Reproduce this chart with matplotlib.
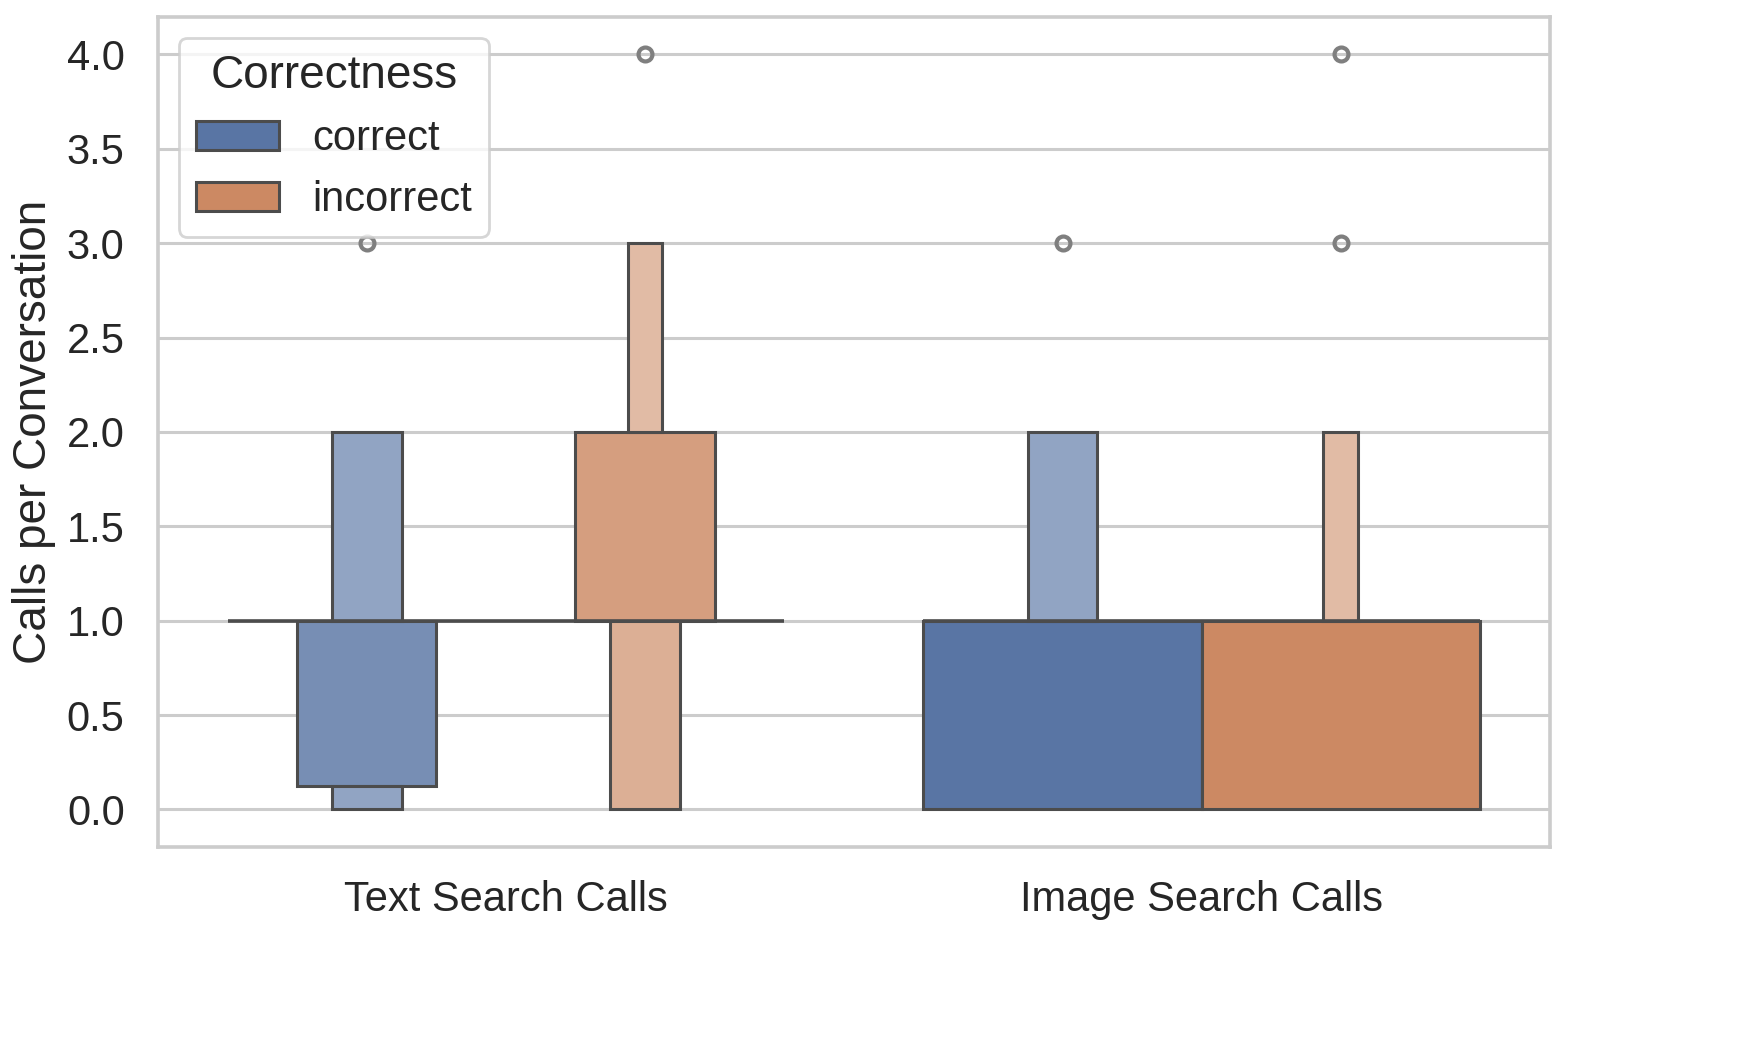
import matplotlib
matplotlib.use("Agg")
import matplotlib.pyplot as plt
from matplotlib.patches import Patch
from matplotlib.colors import to_rgb
import numpy as np
import seaborn as sns

# categories and hue levels
categories = ["Text Search Calls", "Image Search Calls"]
hues = ["correct", "incorrect"]

# letter-value boxes per (category, hue): (lower, upper)
boxes = {
    ("Text Search Calls", "correct"): [(0.125, 1.0), (1.0, 2.0), (0.0, 0.125)],
    ("Text Search Calls", "incorrect"): [(1.0, 2.0), (0.0, 1.0), (2.0, 3.0)],
    ("Image Search Calls", "correct"): [(0.0, 1.0), (1.0, 2.0)],
    ("Image Search Calls", "incorrect"): [(0.0, 1.0), (1.0, 2.0)],
}
medians = {
    ("Text Search Calls", "correct"): 1.0,
    ("Text Search Calls", "incorrect"): 1.0,
    ("Image Search Calls", "correct"): 1.0,
    ("Image Search Calls", "incorrect"): 1.0,
}
outliers = {
    ("Text Search Calls", "correct"): [3.0],
    ("Text Search Calls", "incorrect"): [4.0],
    ("Image Search Calls", "correct"): [3.0],
    ("Image Search Calls", "incorrect"): [4.0, 3.0],
}

# styles: box width as a fraction of the dodge slot, and tint towards white
width_frac = {
    ("Text Search Calls", "correct"): [0.5, 0.25, 0.25],
    ("Text Search Calls", "incorrect"): [0.5, 0.25, 0.125],
    ("Image Search Calls", "correct"): [1.0, 0.25],
    ("Image Search Calls", "incorrect"): [1.0, 0.125],
}
tints = {
    ("Text Search Calls", "correct"): [0.18, 0.34, 0.34],
    ("Text Search Calls", "incorrect"): [0.18, 0.32, 0.42],
    ("Image Search Calls", "correct"): [0.0, 0.34],
    ("Image Search Calls", "incorrect"): [0.0, 0.42],
}

sns.set_theme(style="whitegrid")
plt.rcParams["font.family"] = ["Liberation Sans", "DejaVu Sans"]

base_colors = {"correct": "#5975a4", "incorrect": "#cc8963"}
edge = "#4c4c4c"
slot = 0.4


def tint(color, t):
    c = np.array(to_rgb(color))
    return tuple(c + (1 - c) * t)


fig = plt.figure(figsize=(8.73, 5.21), dpi=200)
ax = fig.add_axes([0.0905, 0.187, 0.797, 0.797])

for i, cat in enumerate(categories):
    for j, hue in enumerate(hues):
        key = (cat, hue)
        xc = i + (j - 0.5) * slot
        for (lo, hi), wf, t in zip(boxes[key], width_frac[key], tints[key]):
            ax.bar(xc, hi - lo, bottom=lo, width=slot * wf,
                   color=tint(base_colors[hue], t), edgecolor=edge,
                   linewidth=1.1, zorder=3)
        ax.plot([xc - slot / 2, xc + slot / 2], [medians[key]] * 2,
                color=edge, linewidth=1.3, zorder=4, solid_capstyle="butt")
        ys = outliers[key]
        ax.plot([xc] * len(ys), ys, linestyle="none", marker="o",
                markersize=5, markerfacecolor="none",
                markeredgecolor="#7f7f7f", markeredgewidth=1.5, zorder=4)

ax.set_xlim(-0.5, 1.5)
ax.set_ylim(-0.2, 4.2)
ax.set_xticks(range(len(categories)))
ax.set_xticklabels(categories)
ax.set_yticks(np.arange(0, 4.01, 0.5))
ax.set_yticklabels([f"{v:.1f}" for v in np.arange(0, 4.01, 0.5)])
ax.tick_params(axis="both", labelsize=15, colors="#262626", pad=6)
ax.xaxis.grid(False)
ax.yaxis.grid(True, color="#cccccc", linewidth=1.1)
ax.set_axisbelow(True)
for s in ax.spines.values():
    s.set_color("#cccccc")
    s.set_linewidth(1.3)
ax.set_ylabel("Calls per Conversation", fontsize=16.5, color="#262626")

handles = [Patch(facecolor=base_colors[h], edgecolor=edge, linewidth=1.1, label=h)
           for h in hues]
leg = ax.legend(handles=handles, title="Correctness", loc="upper left",
                fontsize=15, title_fontsize=16.5, frameon=True)
leg.get_frame().set_edgecolor("#cccccc")

fig.savefig("out.png", dpi=200)
